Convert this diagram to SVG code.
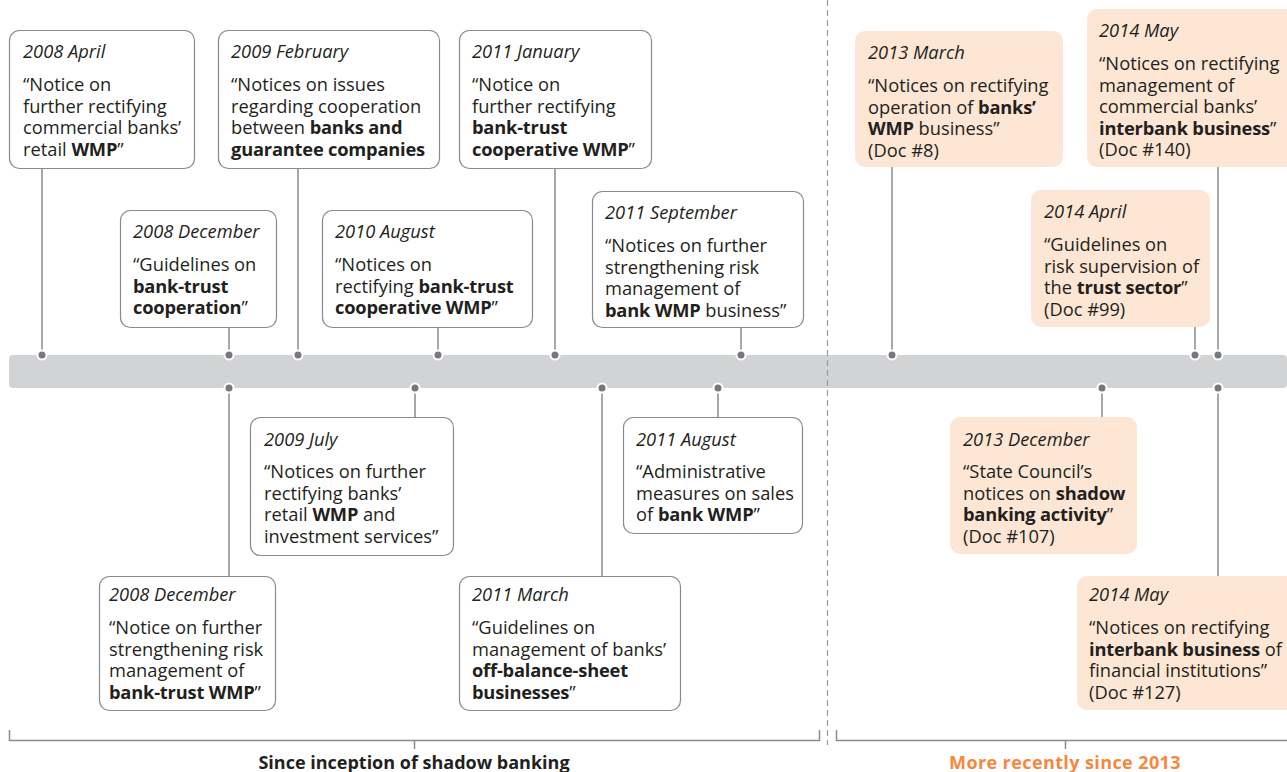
<svg xmlns="http://www.w3.org/2000/svg" width="1287" height="772" viewBox="0 0 1287 772">
<style>
text{font-family:"Open Sans","Liberation Sans",sans-serif;fill:#231f20;font-size:18.3px}
.d{font-style:italic}
.b{font-weight:bold;letter-spacing:-0.2px}
.box{fill:#fff;stroke:#8a8a8c;stroke-width:1.2}
.obox{fill:#fde6d4;stroke:none}
.con{stroke:#8a8b8d;stroke-width:1.5;fill:none}
.dot{fill:#77787b;stroke:#fff;stroke-width:2}
.br{stroke:#8a8b8d;stroke-width:1.5;fill:none}
.lbl{font-weight:bold;font-size:18px;text-anchor:middle}
</style>
<rect x="0" y="0" width="1287" height="772" fill="#fff"/>
<rect x="9" y="355" width="1278" height="33" rx="4" fill="#d1d3d4"/>
<line x1="827.5" y1="0" x2="827.5" y2="745" stroke="#9a9b9d" stroke-width="1.2" stroke-dasharray="6 4"/>
<g id="connectors">
<line class="con" x1="42" y1="168" x2="42" y2="355"/>
<line class="con" x1="298" y1="168" x2="298" y2="355"/>
<line class="con" x1="555" y1="168" x2="555" y2="355"/>
<line class="con" x1="892" y1="167" x2="892" y2="355"/>
<line class="con" x1="1218" y1="167" x2="1218" y2="355"/>
<line class="con" x1="229" y1="327" x2="229" y2="355"/>
<line class="con" x1="438" y1="327" x2="438" y2="355"/>
<line class="con" x1="741" y1="327" x2="741" y2="355"/>
<line class="con" x1="1195" y1="327" x2="1195" y2="355"/>
<line class="con" x1="415" y1="388" x2="415" y2="417"/>
<line class="con" x1="718" y1="388" x2="718" y2="417"/>
<line class="con" x1="229" y1="388" x2="229" y2="576"/>
<line class="con" x1="602" y1="388" x2="602" y2="576"/>
<line class="con" x1="1102" y1="388" x2="1102" y2="417"/>
<line class="con" x1="1218" y1="388" x2="1218" y2="576"/>
<circle class="dot" cx="42" cy="355" r="4.5"/>
<circle class="dot" cx="229" cy="355" r="4.5"/>
<circle class="dot" cx="298" cy="355" r="4.5"/>
<circle class="dot" cx="438" cy="355" r="4.5"/>
<circle class="dot" cx="555" cy="355" r="4.5"/>
<circle class="dot" cx="741" cy="355" r="4.5"/>
<circle class="dot" cx="892" cy="355" r="4.5"/>
<circle class="dot" cx="1195" cy="355" r="4.5"/>
<circle class="dot" cx="1218" cy="355" r="4.5"/>
<circle class="dot" cx="229" cy="388" r="4.5"/>
<circle class="dot" cx="415" cy="388" r="4.5"/>
<circle class="dot" cx="602" cy="388" r="4.5"/>
<circle class="dot" cx="718" cy="388" r="4.5"/>
<circle class="dot" cx="1102" cy="388" r="4.5"/>
<circle class="dot" cx="1218" cy="388" r="4.5"/>
</g>
<g id="n2008apr">
<rect class="box" x="9.5" y="30.5" width="185" height="138" rx="10"/>
<text x="23" y="58" class="d">2008 April</text>
<text x="23" y="91">“Notice on</text>
<text x="23" y="112.5">further rectifying</text>
<text x="23" y="134">commercial banks’</text>
<text x="23" y="155.5">retail <tspan class="b">WMP</tspan>”</text>
</g>
<g id="n2009feb">
<rect class="box" x="218.5" y="30.5" width="221" height="138" rx="10"/>
<text x="231" y="58" class="d">2009 February</text>
<text x="231" y="91">“Notices on issues</text>
<text x="231" y="112.5">regarding cooperation</text>
<text x="231" y="134">between <tspan class="b">banks and</tspan></text>
<text x="231" y="155.5" class="b">guarantee companies</text>
</g>
<g id="n2011jan">
<rect class="box" x="459.5" y="30.5" width="192" height="138" rx="10"/>
<text x="472" y="58" class="d">2011 January</text>
<text x="472" y="91">“Notice on</text>
<text x="472" y="112.5">further rectifying</text>
<text x="472" y="134" class="b">bank-trust</text>
<text x="472" y="155.5"><tspan class="b">cooperative WMP</tspan>”</text>
</g>
<g id="n2013mar">
<rect class="obox" x="855" y="31" width="208" height="136" rx="10"/>
<text x="868" y="59" class="d">2013 March</text>
<text x="868" y="92">“Notices on rectifying</text>
<text x="868" y="113.5">operation of <tspan class="b">banks’</tspan></text>
<text x="868" y="135"><tspan class="b">WMP</tspan> business”</text>
<text x="868" y="156.5">(Doc #8)</text>
</g>
<g id="n2014may1">
<rect class="obox" x="1087" y="9" width="215" height="158" rx="10"/>
<text x="1099" y="37" class="d">2014 May</text>
<text x="1099" y="70">“Notices on rectifying</text>
<text x="1099" y="91.5">management of</text>
<text x="1099" y="113">commercial banks’</text>
<text x="1099" y="134.5"><tspan class="b">interbank business</tspan>”</text>
<text x="1099" y="156">(Doc #140)</text>
</g>
<g id="n2008dec1">
<rect class="box" x="120.5" y="210.5" width="156" height="117" rx="10"/>
<text x="133" y="238" class="d">2008 December</text>
<text x="133" y="271">“Guidelines on</text>
<text x="133" y="292.5" class="b">bank-trust</text>
<text x="133" y="314"><tspan class="b">cooperation</tspan>”</text>
</g>
<g id="n2010aug">
<rect class="box" x="322.5" y="210.5" width="210" height="117" rx="10"/>
<text x="335" y="238" class="d">2010 August</text>
<text x="335" y="271">“Notices on</text>
<text x="335" y="292.5">rectifying <tspan class="b">bank-trust</tspan></text>
<text x="335" y="314"><tspan class="b">cooperative WMP</tspan>”</text>
</g>
<g id="n2011sep">
<rect class="box" x="592.5" y="191.5" width="211" height="136" rx="10"/>
<text x="605" y="219" class="d">2011 September</text>
<text x="605" y="252">“Notices on further</text>
<text x="605" y="273.5">strengthening risk</text>
<text x="605" y="295">management of</text>
<text x="605" y="316.5"><tspan class="b">bank WMP</tspan> business”</text>
</g>
<g id="n2014apr">
<rect class="obox" x="1031" y="190" width="179" height="137" rx="10"/>
<text x="1044" y="218" class="d">2014 April</text>
<text x="1044" y="251">“Guidelines on</text>
<text x="1044" y="272.5">risk supervision of</text>
<text x="1044" y="294">the <tspan class="b">trust sector</tspan>”</text>
<text x="1044" y="315.5">(Doc #99)</text>
</g>
<g id="n2009jul">
<rect class="box" x="250.5" y="417.5" width="203" height="138" rx="10"/>
<text x="264" y="446" class="d">2009 July</text>
<text x="264" y="478">“Notices on further</text>
<text x="264" y="499.5">rectifying banks’</text>
<text x="264" y="521">retail <tspan class="b">WMP</tspan> and</text>
<text x="264" y="542.5">investment services”</text>
</g>
<g id="n2011aug">
<rect class="box" x="623.5" y="417.5" width="179" height="116" rx="10"/>
<text x="636" y="446" class="d">2011 August</text>
<text x="636" y="478">“Administrative</text>
<text x="636" y="499.5">measures on sales</text>
<text x="636" y="521">of <tspan class="b">bank WMP</tspan>”</text>
</g>
<g id="n2008dec2">
<rect class="box" x="99.5" y="576.5" width="176" height="134" rx="10"/>
<text x="109" y="601" class="d">2008 December</text>
<text x="109" y="634">“Notice on further</text>
<text x="109" y="655.5">strengthening risk</text>
<text x="109" y="677">management of</text>
<text x="109" y="698.5"><tspan class="b">bank-trust WMP</tspan>”</text>
</g>
<g id="n2011mar">
<rect class="box" x="459.5" y="576.5" width="221" height="134" rx="10"/>
<text x="472" y="601" class="d">2011 March</text>
<text x="472" y="634">“Guidelines on</text>
<text x="472" y="655.5">management of banks’</text>
<text x="472" y="677" class="b">off-balance-sheet</text>
<text x="472" y="698.5"><tspan class="b">businesses</tspan>”</text>
</g>
<g id="n2013dec">
<rect class="obox" x="950" y="417" width="187" height="137" rx="10"/>
<text x="963" y="446" class="d">2013 December</text>
<text x="963" y="478">“State Council’s</text>
<text x="963" y="499.5">notices on <tspan class="b">shadow</tspan></text>
<text x="963" y="521"><tspan class="b">banking activity</tspan>”</text>
<text x="963" y="542.5">(Doc #107)</text>
</g>
<g id="n2014may2">
<rect class="obox" x="1077" y="576" width="225" height="134" rx="10"/>
<text x="1089" y="601" class="d">2014 May</text>
<text x="1089" y="634">“Notices on rectifying</text>
<text x="1089" y="655.5"><tspan class="b">interbank business</tspan> of</text>
<text x="1089" y="677">financial institutions”</text>
<text x="1089" y="698.5">(Doc #127)</text>
</g>
<g id="brackets">
<path class="br" d="M9.5,730 V740.5 H819.5 V730 M414.5,740.5 V749"/>
<path class="br" d="M836.5,730 V740.5 H1287 M1065.5,740.5 V749"/>
<text class="lbl" x="414" y="769">Since inception of shadow banking</text>
<text class="lbl" x="1065" y="769" style="fill:#f5873f;letter-spacing:0.4px">More recently since 2013</text>
</g>
</svg>
